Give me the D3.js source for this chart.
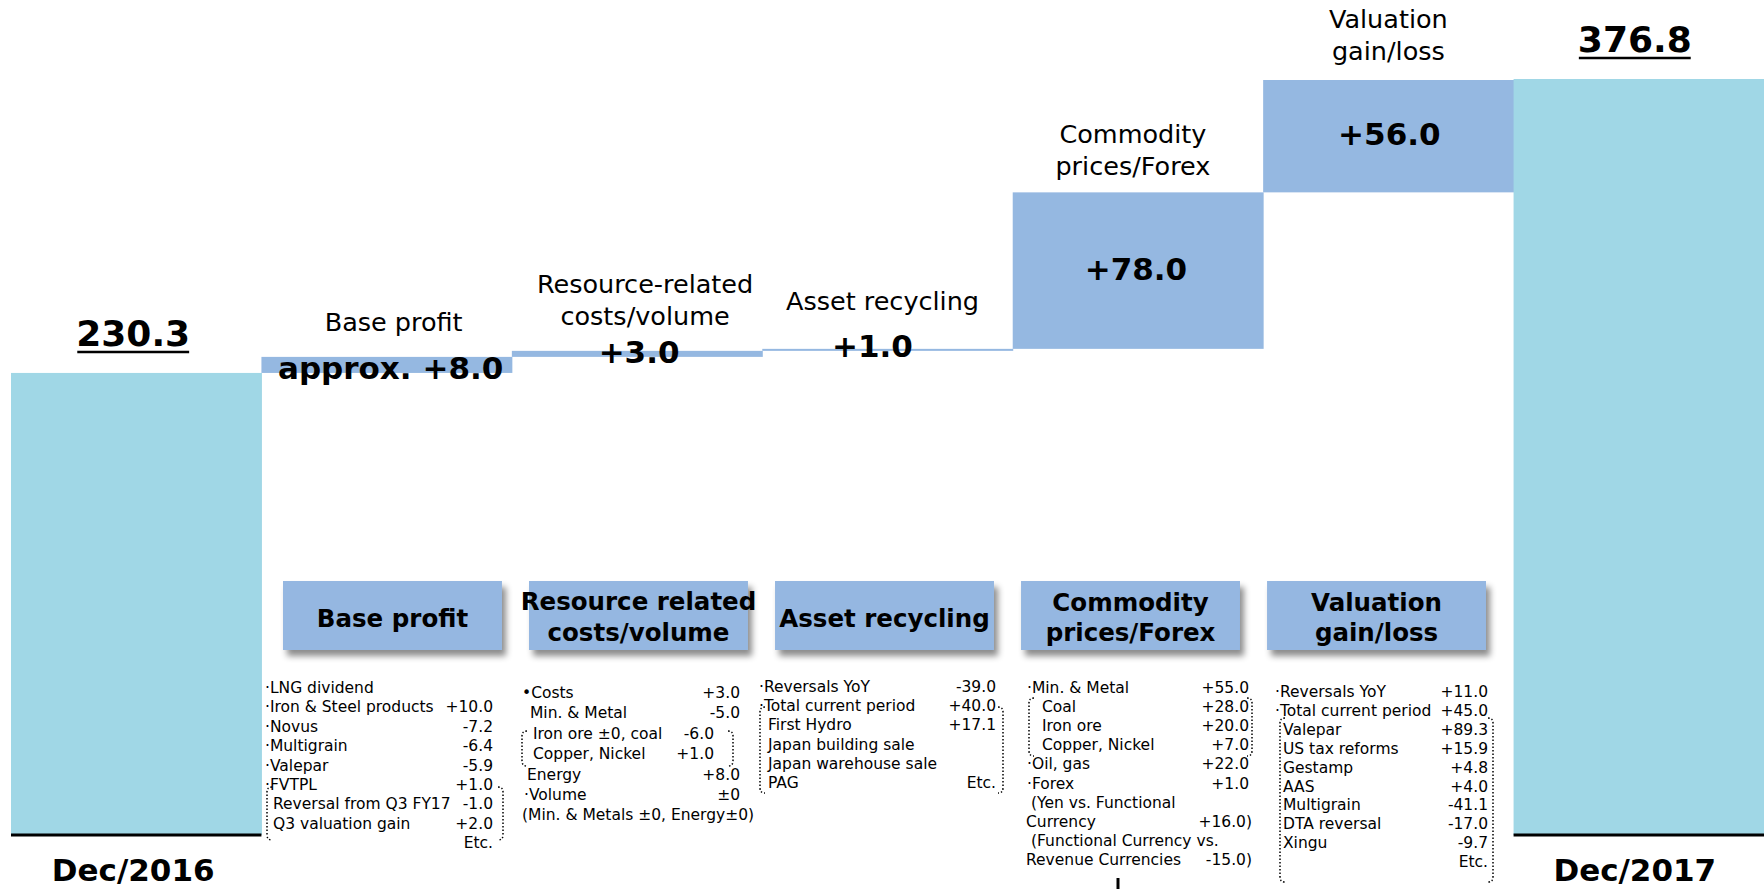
<!doctype html>
<html>
<head>
<meta charset="utf-8">
<title>Profit bridge Dec/2016 - Dec/2017</title>
<script src="https://d3js.org/d3.v7.min.js"></script>
<style>
body { margin: 0; background: #fff; }
text { font-family: "DejaVu Sans", Verdana, sans-serif; fill: #000; }
</style>
</head>
<body>
<script>
// ---- data ----
var steps = ["Dec/2016", "Base profit", "Resource-related costs/volume", "Asset recycling",
             "Commodity prices/Forex", "Valuation gain/loss", "Dec/2017"];
var values = [230.3, 8.0, 3.0, 1.0, 78.0, 56.0, 376.8];
var kinds = ["total", "delta", "delta", "delta", "delta", "delta", "total"];
var valueLabels = ["230.3", "approx. +8.0", "+3.0", "+1.0", "+78.0", "+56.0", "376.8"];
var stepTitles = [[], ["Base profit"], ["Resource-related", "costs/volume"], ["Asset recycling"],
                  ["Commodity", "prices/Forex"], ["Valuation", "gain/loss"], []];

var boxTitles = [["Base profit"], ["Resource related", "costs/volume"], ["Asset recycling"],
                 ["Commodity", "prices/Forex"], ["Valuation", "gain/loss"]];

// rows: [text, value, indent, valueShift]
var baseRows = [
    ["·LNG dividend", ""],
    ["·Iron & Steel products", "+10.0"],
    ["·Novus", "-7.2"],
    ["·Multigrain", "-6.4"],
    ["·Valepar", "-5.9"],
    ["·FVTPL", "+1.0"],
    ["Reversal from Q3 FY17", "-1.0", 8],
    ["Q3 valuation gain", "+2.0", 8],
    ["", "Etc."]
];
var resourceRows = [
    ["•Costs", "+3.0"],
    ["Min. & Metal", "-5.0", 8],
    ["Iron ore ±0, coal", "-6.0", 11, -26],
    ["Copper, Nickel", "+1.0", 11, -26],
    ["Energy", "+8.0", 5],
    ["·Volume", "±0", 2],
    ["(Min. & Metals ±0, Energy±0)", ""]
];
var assetRows = [
    ["·Reversals YoY", "-39.0"],
    ["·Total current period", "+40.0"],
    ["First Hydro", "+17.1", 9],
    ["Japan building sale", "", 9],
    ["Japan warehouse sale", "", 9],
    ["PAG", "Etc.", 9]
];
var commodityRows = [
    ["·Min. & Metal", "+55.0"],
    ["Coal", "+28.0", 15],
    ["Iron ore", "+20.0", 15],
    ["Copper, Nickel", "+7.0", 15],
    ["·Oil, gas", "+22.0"],
    ["·Forex", "+1.0"],
    ["(Yen vs. Functional", "", 4],
    ["Currency", "+16.0)", -1, 3],
    ["(Functional Currency vs.", "", 4],
    ["Revenue Currencies", "-15.0)", -1, 3]
];
var valuationRows = [
    ["·Reversals YoY", "+11.0"],
    ["·Total current period", "+45.0"],
    ["Valepar", "+89.3", 8],
    ["US tax reforms", "+15.9", 8],
    ["Gestamp", "+4.8", 8],
    ["AAS", "+4.0", 8],
    ["Multigrain", "-41.1", 8],
    ["DTA reversal", "-17.0", 8],
    ["Xingu", "-9.7", 8],
    ["", "Etc.", 8]
];

// ---- layout ----
var W = 1764, H = 889;
var svg = d3.select("body").append("svg").attr("width", W).attr("height", H);

var defs = svg.append("defs");
defs.append("filter").attr("id", "shadow").attr("x", "-10%").attr("y", "-10%")
    .attr("width", "130%").attr("height", "140%")
    .append("feDropShadow").attr("dx", 4).attr("dy", 6).attr("stdDeviation", 3)
    .attr("flood-color", "#000").attr("flood-opacity", 0.45);

var x = d3.scaleBand().domain(steps).range([11, W]).padding(0);
var y = d3.scaleLinear().domain([0, 376.8]).range([835, 79]);

var run = 0;
var bars = steps.map(function (s, i) {
    var lo, hi;
    if (kinds[i] == "total") { lo = 0; hi = values[i]; run = values[i]; }
    else { lo = run; hi = run + values[i]; run = hi; }
    return { step: s, lo: lo, hi: hi, i: i };
});

svg.selectAll("rect.bar")
    .data(bars)
    .enter()
    .append("rect")
    .attr("class", "bar")
    .attr("x", function (d) { return x(d.step); })
    .attr("width", x.bandwidth() + 0.5)
    .attr("y", function (d) { return y(d.hi); })
    .attr("height", function (d) { return y(d.lo) - y(d.hi); })
    .attr("fill", function (d) { return kinds[d.i] == "total" ? "#a0d7e6" : "#95b8e1"; });

// baseline under totals
svg.selectAll("line.base")
    .data(bars.filter(function (d) { return kinds[d.i] == "total"; }))
    .enter()
    .append("line")
    .attr("x1", function (d) { return x(d.step); })
    .attr("x2", function (d) { return x(d.step) + x.bandwidth(); })
    .attr("y1", y(0)).attr("y2", y(0))
    .attr("stroke", "#000").attr("stroke-width", 3);

var labelDx = [-3, 4, 2, -15, -2, 1, -4];
var titleDx = [0, 7, 8, -5, -5, 0, 0];
var titleGap = [0, 26, 26, 39, 17, 20, 0];

bars.forEach(function (d) {
    var cx = x(d.step) + x.bandwidth() / 2;
    if (kinds[d.i] == "total") {
        var t = svg.append("text")
            .attr("x", cx + labelDx[d.i]).attr("y", y(d.hi) - 27)
            .attr("text-anchor", "middle")
            .attr("font-size", 36).attr("font-weight", "bold")
            .text(valueLabels[d.i]);
        var bb = t.node().getBBox();
        svg.append("line")
            .attr("x1", bb.x + 1).attr("x2", bb.x + bb.width - 1)
            .attr("y1", y(d.hi) - 21).attr("y2", y(d.hi) - 21)
            .attr("stroke", "#000").attr("stroke-width", 2.5);
        svg.append("text")
            .attr("x", cx + labelDx[d.i]).attr("y", 881)
            .attr("text-anchor", "middle")
            .attr("font-size", 31).attr("font-weight", "bold")
            .text(d.step);
    } else {
        var h = y(d.lo) - y(d.hi);
        var ly = h > 60 ? (y(d.hi) + y(d.lo)) / 2 + 9 : y(d.lo) + 6;
        svg.append("text")
            .attr("x", cx + labelDx[d.i]).attr("y", ly)
            .attr("text-anchor", "middle")
            .attr("font-size", 31).attr("font-weight", "bold")
            .text(valueLabels[d.i]);
        var lines = stepTitles[d.i];
        lines.forEach(function (ln, k) {
            svg.append("text")
                .attr("x", cx + titleDx[d.i])
                .attr("y", y(d.hi) - titleGap[d.i] - (lines.length - 1 - k) * 32)
                .attr("text-anchor", "middle")
                .attr("font-size", 25.5)
                .text(ln);
        });
    }
});

// category boxes
var boxNames = boxTitles.map(function (b) { return b.join(" "); });
var bx = d3.scaleBand().domain(boxNames).range([283, 1486]).paddingInner(0.11).paddingOuter(0);
var boxBase = [[627], [610, 641], [627], [611, 641], [611, 641]];

boxTitles.forEach(function (b, i) {
    var g = svg.append("g");
    g.append("rect")
        .attr("x", bx(boxNames[i])).attr("y", 581)
        .attr("width", bx.bandwidth()).attr("height", 69)
        .attr("fill", "#95b7e1")
        .attr("filter", "url(#shadow)");
    b.forEach(function (ln, k) {
        g.append("text")
            .attr("x", bx(boxNames[i]) + bx.bandwidth() / 2)
            .attr("y", boxBase[i][k])
            .attr("text-anchor", "middle")
            .attr("font-size", 24.5).attr("font-weight", "bold")
            .text(ln);
    });
});

// detail blocks: rows, left, right, first baseline, line height, bracket [top, bottom, left, right]
var blocks = [
    { rows: baseRows, left: 265, right: 493, top: 693, lh: 19.4, br: [787, 840, 267, 503] },
    { rows: resourceRows, left: 522, right: 740, top: 698, lh: 20.4, br: [731, 766, 522, 733] },
    { rows: assetRows, left: 759, right: 996, top: 692, lh: 19.2, br: [707, 793, 760, 1003] },
    { rows: commodityRows, left: 1027, right: 1249, top: 693, lh: 19.1, br: [698, 756, 1029, 1252] },
    { rows: valuationRows, left: 1275, right: 1488, top: 697, lh: 18.9, br: [718, 882, 1280, 1493] }
];

blocks.forEach(function (bl) {
    var g = svg.append("g").attr("font-size", 15.5);
    g.selectAll("text.lbl")
        .data(bl.rows)
        .enter()
        .append("text")
        .attr("x", function (r) { return bl.left + (r[2] || 0); })
        .attr("y", function (r, i) { return bl.top + i * bl.lh; })
        .text(function (r) { return r[0]; });
    g.selectAll("text.val")
        .data(bl.rows)
        .enter()
        .append("text")
        .attr("x", function (r) { return bl.right + (r[3] || 0); })
        .attr("y", function (r, i) { return bl.top + i * bl.lh; })
        .attr("text-anchor", "end")
        .text(function (r) { return r[1]; });

    var t = bl.br[0], b = bl.br[1], l = bl.br[2], r = bl.br[3];
    var p = d3.path();
    p.moveTo(l + 5, t); p.quadraticCurveTo(l, t, l, t + 5);
    p.lineTo(l, b - 5); p.quadraticCurveTo(l, b, l + 5, b);
    p.moveTo(r - 5, t); p.quadraticCurveTo(r, t, r, t + 5);
    p.lineTo(r, b - 5); p.quadraticCurveTo(r, b, r - 5, b);
    svg.append("path").attr("d", p.toString())
        .attr("fill", "none").attr("stroke", "#000")
        .attr("stroke-width", 1.5).attr("stroke-dasharray", "1.5,2");
});

// small connector stub at the bottom
svg.append("line").attr("x1", 1118).attr("x2", 1118).attr("y1", 878).attr("y2", H)
    .attr("stroke", "#000").attr("stroke-width", 3);
</script>
</body>
</html>
